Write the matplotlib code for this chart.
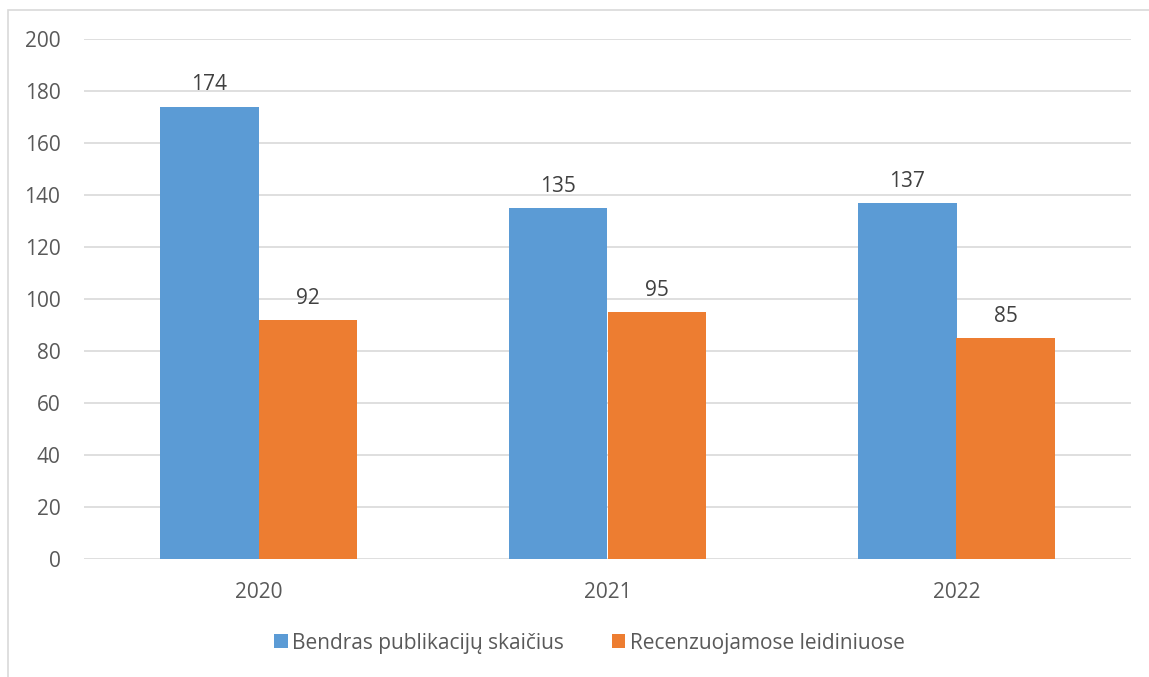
import matplotlib.pyplot as plt
import numpy as np
from matplotlib.patches import Rectangle

# duomenys
metai = ["2020", "2021", "2022"]
bendras = [174, 135, 137]
recenzuojamose = [92, 95, 85]
serijos = ["Bendras publikacijų skaičius", "Recenzuojamose leidiniuose"]

spalva_m = "#5b9bd5"
spalva_o = "#ed7d31"
teksto = "#595959"

plt.rcParams["font.family"] = ["Open Sans", "DejaVu Sans"]

fig = plt.figure(figsize=(11.49, 6.77), dpi=100)
# remelis aplink diagrama
fig.patches.append(Rectangle((8 / 1149, -0.1), 1.2, 667 / 677 + 0.1,
                             transform=fig.transFigure, fill=False,
                             edgecolor="#d9d9d9", linewidth=1.2))

ax = fig.add_axes([84 / 1149, 118 / 677, 1047 / 1149, 520 / 677])

x = np.arange(len(metai))
w = 0.281
b1 = ax.bar(x - w / 2, bendras, w, color=spalva_m, label=serijos[0], zorder=3)
b2 = ax.bar(x + w / 2, recenzuojamose, w, color=spalva_o, label=serijos[1], zorder=3)

for bars in (b1, b2):
    for b in bars:
        ax.annotate(str(int(b.get_height())), (b.get_x() + b.get_width() / 2, b.get_height()),
                    xytext=(0, 8), textcoords="offset points", ha="center", va="bottom",
                    fontsize=15, color="#404040")

ax.set_xlim(-0.5, 2.5)
ax.set_ylim(0, 200)
ax.set_yticks(range(0, 201, 20))
ax.set_xticks(x)
ax.set_xticklabels(metai)
ax.grid(axis="y", color="#d9d9d9", linewidth=1.2, zorder=0)
for s in ax.spines.values():
    s.set_visible(False)
ax.tick_params(axis="both", length=0, labelsize=15, colors=teksto)
ax.tick_params(axis="y", pad=17)
ax.tick_params(axis="x", pad=16.5)

fig.legend(handles=[b1, b2], labels=serijos, loc="center",
           bbox_to_anchor=(0.5 + 15 / 1149, 1 - 643 / 677),
           ncol=2, frameon=False, fontsize=15, labelcolor=teksto,
           handlelength=0.65, handleheight=0.65, handletextpad=0.22, columnspacing=2.3)

fig.savefig("out.png", dpi=100)
